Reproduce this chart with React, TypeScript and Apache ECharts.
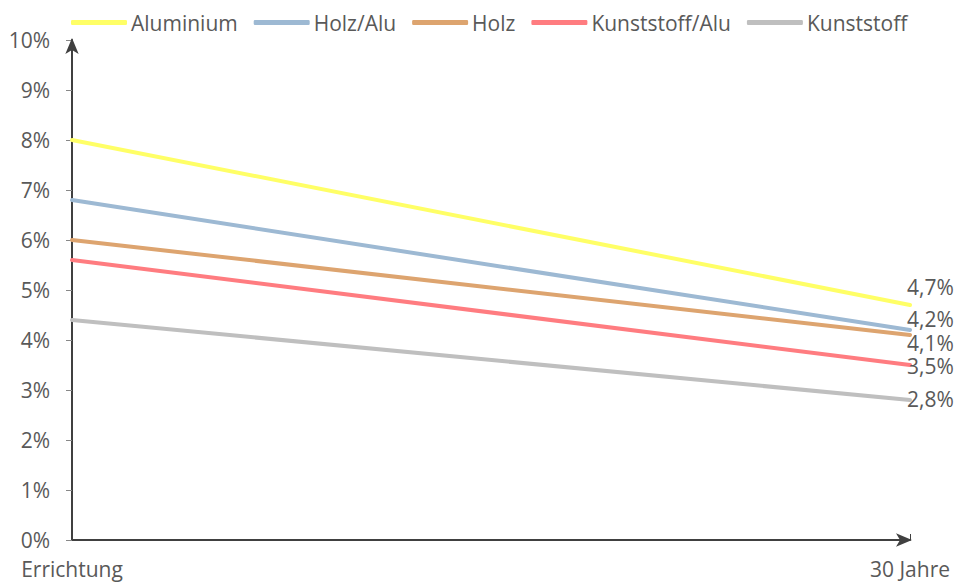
import React, { useEffect, useRef } from "react";
import * as echarts from "echarts";

const categories = ["Errichtung", "30 Jahre"];
const seriesNames = ["Aluminium", "Holz/Alu", "Holz", "Kunststoff/Alu", "Kunststoff"];
const aluminium = [8.0, 4.7];
const holzAlu = [6.8, 4.2];
const holz = [6.0, 4.1];
const kunststoffAlu = [5.6, 3.5];
const kunststoff = [4.4, 2.8];
const yTicks = [0, 1, 2, 3, 4, 5, 6, 7, 8, 9, 10];

const colors = ["#FFFF66", "#9DB9D3", "#DDA46F", "#FF7C80", "#BFBFBF"];
const labelDy = [-18, -11, 8, 1, -1];
const FONT = "Open Sans";
const FS = 21;

export default function App() {
  const ref = useRef<HTMLDivElement>(null);
  useEffect(() => {
    if (!ref.current) return;
    const chart = echarts.init(ref.current, null, { renderer: "svg" });
    const data = [aluminium, holzAlu, holz, kunststoffAlu, kunststoff];
    chart.setOption({
      animation: false,
      textStyle: { fontFamily: FONT },
      legend: {
        top: 7,
        left: 66,
        itemWidth: 56,
        itemHeight: 5,
        itemGap: 16,
        icon: "roundRect",
        textStyle: { fontSize: FS, color: "#595959", fontFamily: FONT, padding: [0, 0, 0, -1] },
        data: seriesNames,
      },
      grid: { left: 72, right: 47, top: 40, bottom: 43, containLabel: false },
      xAxis: {
        type: "category",
        data: categories,
        boundaryGap: false,
        axisLine: {
          lineStyle: { color: "#404040", width: 2 },
          symbol: ["none", "arrow"],
          symbolSize: [10, 16],
          symbolOffset: [0, 2],
        },
        axisTick: { inside: true, length: 6, lineStyle: { color: "#404040" } },
        axisLabel: { fontSize: FS, color: "#595959", margin: 18, fontFamily: FONT },
        splitLine: { show: false },
      },
      yAxis: {
        type: "value",
        min: 0,
        max: 10,
        interval: 1,
        axisLine: {
          show: true,
          lineStyle: { color: "#404040", width: 2 },
          symbol: ["none", "arrow"],
          symbolSize: [10, 16],
          symbolOffset: [0, 2],
        },
        axisTick: { show: true, length: 6, lineStyle: { color: "#888888" } },
        axisLabel: {
          fontSize: FS,
          color: "#595959",
          margin: 22,
          fontFamily: FONT,
          formatter: (v: number) => (yTicks.includes(v) ? v + "%" : ""),
        },
        splitLine: { show: false },
      },
      series: seriesNames.map((name, i) => ({
        name,
        type: "line",
        data: data[i],
        symbol: "none",
        lineStyle: { color: colors[i], width: 4, cap: "round" },
        itemStyle: { color: colors[i] },
        endLabel: {
          show: true,
          distance: 0,
          offset: [-3, labelDy[i]],
          fontSize: FS,
          lineHeight: 20,
          color: "#595959",
          fontFamily: FONT,
          formatter: (p: any) => String(Number(p.value).toFixed(1)).replace(".", ",") + "%",
        },
        z: 5 - i,
      })),
    });
    return () => chart.dispose();
  }, []);
  return <div ref={ref} style={{ width: 957, height: 583, position: "absolute", left: 0, top: 0 }} />;
}
